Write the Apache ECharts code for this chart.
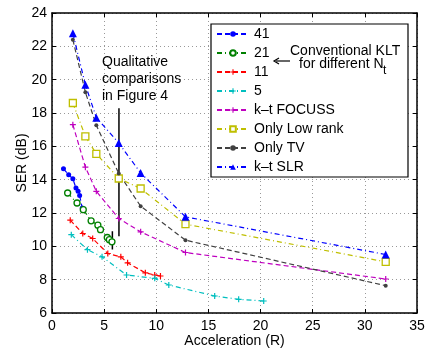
<!DOCTYPE html>
<html><head><meta charset="utf-8">
<script src="https://cdn.jsdelivr.net/npm/echarts@6/dist/echarts.min.js"></script>
<style>html,body{margin:0;padding:0;background:#fff}#c{width:430px;height:348px}</style>
</head><body><div id="c"></div>
<script>
// ---- data ----
var xTicks = [0, 5, 10, 15, 20, 25, 30, 35];
var yTicks = [6, 8, 10, 12, 14, 16, 18, 20, 22, 24];
var klt41 = [[1.1,14.65],[1.6,14.3],[2.0,14.05],[2.3,13.5],[2.5,13.3],[2.65,13.05],[2.9,12.3],[3.0,12.2]];
var klt21 = [[1.5,13.2],[2.4,12.6],[3.0,12.2],[3.75,11.53],[4.4,11.27],[4.65,11.0],[5.3,10.53],[5.5,10.4],[5.75,10.27]];
var klt11 = [[1.75,11.57],[2.95,10.77],[3.9,10.47],[5.35,9.57],[6.6,9.37],[7.25,9.01],[8.95,8.41],[9.85,8.28],[10.4,8.22]];
var klt5 = [[1.85,10.7],[3.4,9.8],[4.8,9.37],[7.15,8.28],[9.85,8.08],[11.2,7.68],[15.6,7.02],[17.9,6.82],[20.3,6.72]];
var ktFocuss = [[2.0,17.3],[3.2,14.75],[4.25,13.3],[6.4,11.67],[8.5,10.87],[12.8,9.63],[32,8.04]];
var lowRank = [[2.0,18.6],[3.2,16.6],[4.25,15.55],[6.4,14.07],[8.5,13.47],[12.8,11.33],[32,9.07]];
var onlyTV = [[2.0,22.4],[3.2,19.25],[4.25,17.26],[6.4,14.37],[8.5,12.41],[12.8,10.37],[32,7.64]];
var ktSLR = [[2.0,22.78],[3.2,19.69],[4.25,17.72],[6.4,16.2],[8.5,14.4],[12.8,11.77],[32,9.51]];
var seriesNames = ['41','21','11','5','k\u2013t FOCUSS','Only Low rank','Only TV','k\u2013t SLR'];
var annotLong = [[6.42,18.28],[6.42,10.6]];
var annotShort = [[5.79,10.91],[5.79,9.81]];

// ---- chart ----
var FONT = "'Liberation Sans', Arial, Helvetica, sans-serif";
var plus = 'path://M4,0H6V4H10V6H6V10H4V6H0V4H4Z';
var dash = [5,3];
var dashDot = [5,3,1,3];
function mk(name, data, color, ltype, symbol, size, filled) {
  return {
    name: name, type: 'line', data: data, z: 2,
    lineStyle: {color: color, width: 1.2, type: ltype},
    symbol: symbol, symbolSize: size,
    itemStyle: {color: filled ? color : '#fff', borderColor: color, borderWidth: filled ? 0 : 1.3},
    emphasis: {disabled: true}, animation: false
  };
}
function annot(data) {
  return {type:'line', data:data, symbol:'none', silent:true, z:1,
    lineStyle:{color:'#000', width:1.5}, animation:false};
}
var series = [
  mk(seriesNames[0], klt41, '#0000ff', dash, 'circle', 5, true),
  mk(seriesNames[1], klt21, '#008000', dashDot, 'circle', 6, false),
  mk(seriesNames[2], klt11, '#ff0000', dash, plus, 6, true),
  mk(seriesNames[3], klt5, '#00bfbf', dashDot, plus, 6, true),
  mk(seriesNames[4], ktFocuss, '#bf00bf', dash, plus, 6, true),
  mk(seriesNames[5], lowRank, '#bfbf00', dashDot, 'rect', 7, false),
  mk(seriesNames[6], onlyTV, '#404040', dash, 'circle', 4, true),
  mk(seriesNames[7], ktSLR, '#0000ff', dashDot, 'triangle', 8, true),
  annot(annotLong), annot(annotShort)
];
var chart = echarts.init(document.getElementById('c'), null, {renderer:'canvas'});
var axisCommon = {
  axisLine:{show:true, onZero:false, lineStyle:{color:'#000', width:1.5}},
  axisTick:{show:true, inside:true, length:4, lineStyle:{color:'#000'}},
  splitLine:{show:false}
};
chart.setOption({
  animation:false,
  textStyle:{fontFamily:FONT},
  grid:{left:52, right:13, top:13, bottom:35, containLabel:false, outerBoundsMode:'none'},
  legend:{
    data:seriesNames, orient:'vertical', left:216, top:27, padding:0,
    itemWidth:32, itemHeight:7, itemGap:5, z:5,
    textStyle:{fontSize:14, color:'#000', fontFamily:FONT, lineHeight:14}
  },
  xAxis:[
    Object.assign({type:'value', min:xTicks[0], max:xTicks[xTicks.length-1], interval:5,
      name:'Acceleration (R)', nameLocation:'middle', nameGap:21, nameMoveOverlap:false,
      nameTextStyle:{fontSize:14, color:'#000'},
      axisLabel:{fontSize:14, color:'#000', margin:6}}, axisCommon,
      {splitLine:{show:true, lineStyle:{color:'#999', type:[1,3], width:1}}}),
    Object.assign({type:'value', position:'top', min:xTicks[0], max:xTicks[xTicks.length-1], interval:5,
      axisLabel:{show:false}}, axisCommon)
  ],
  yAxis:[
    Object.assign({type:'value', min:yTicks[0], max:yTicks[yTicks.length-1], interval:2,
      name:'SER (dB)', nameLocation:'middle', nameGap:23, nameMoveOverlap:false,
      nameTextStyle:{fontSize:14, color:'#000'},
      axisLabel:{fontSize:14, color:'#000', margin:5}}, axisCommon,
      {splitLine:{show:true, lineStyle:{color:'#999', type:[1,3], width:1}}}),
    Object.assign({type:'value', position:'right', min:yTicks[0], max:yTicks[yTicks.length-1], interval:2,
      axisLabel:{show:false}}, axisCommon)
  ],
  series: series,
  graphic:[
    {type:'rect', shape:{x:211, y:24, width:197, height:153}, z:3,
     style:{fill:'#fff', stroke:'#000', lineWidth:1.2}},
    {type:'text', x:290, y:44, z:6, style:{text:'Conventional KLT', font:'14px '+FONT, fill:'#000'}},
    {type:'text', x:299, y:57, z:6, style:{text:'for different N', font:'14px '+FONT, fill:'#000'}},
    {type:'text', x:383, y:65, z:6, style:{text:'t', font:'12px '+FONT, fill:'#000'}},
    {type:'line', z:6, shape:{x1:290, y1:61, x2:276, y2:61}, style:{stroke:'#000', lineWidth:1.2}},
    {type:'polyline', z:6, shape:{points:[[279,58],[274,61],[279,64]]}, style:{stroke:'#000', lineWidth:1.2, fill:null}},
    {type:'text', x:102, y:55, z:6, style:{text:'Qualitative', font:'14px '+FONT, fill:'#000'}},
    {type:'text', x:102, y:72, z:6, style:{text:'comparisons', font:'14px '+FONT, fill:'#000'}},
    {type:'text', x:102, y:89, z:6, style:{text:'in Figure 4', font:'14px '+FONT, fill:'#000'}}
  ]
});
</script></body></html>
